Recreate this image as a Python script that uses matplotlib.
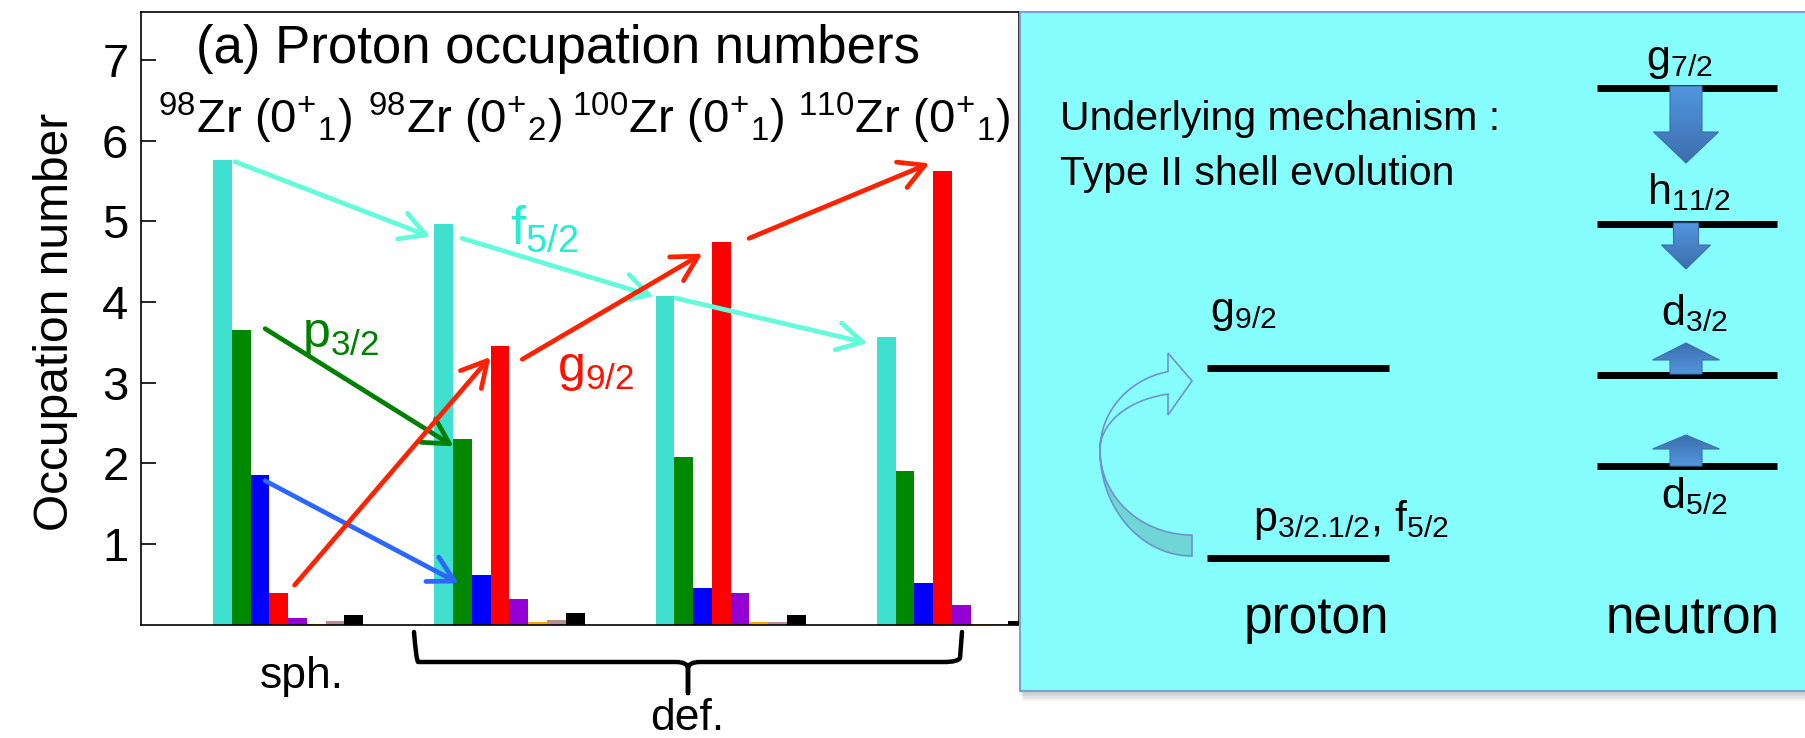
import numpy as np
import matplotlib
matplotlib.use('Agg')
import matplotlib.pyplot as plt
from matplotlib.patches import Rectangle, Polygon, PathPatch
from matplotlib.path import Path

plt.rcParams['font.family'] = ['Liberation Sans', 'DejaVu Sans']
plt.rcParams['mathtext.fontset'] = 'custom'
plt.rcParams['mathtext.rm'] = 'Liberation Sans'
plt.rcParams['mathtext.it'] = 'Liberation Sans:italic'
plt.rcParams['mathtext.bf'] = 'Liberation Sans:bold'

# proton orbitals (one bar per orbital in every state)
orbitals = ['f5/2', 'p3/2', 'p1/2', 'g9/2', 'd5/2', 's1/2', 'd3/2', 'g7/2']
bar_colors = ['#40E0D0', '#008800', '#0000FF', '#FF0000', '#9400D3',
              '#FFA500', '#BC8F8F', '#000000']

states = [r'$^{98}$Zr (0$^{+}$$_{1}$)', r'$^{98}$Zr (0$^{+}$$_{2}$)',
          r'$^{100}$Zr (0$^{+}$$_{1}$)', r'$^{110}$Zr (0$^{+}$$_{1}$)']
occ_98zr_0p1 = [5.76, 3.65, 1.86, 0.39, 0.08, 0.01, 0.05, 0.12]
occ_98zr_0p2 = [4.97, 2.30, 0.61, 3.45, 0.32, 0.03, 0.06, 0.14]
occ_100zr_0p1 = [4.07, 2.08, 0.46, 4.74, 0.39, 0.03, 0.03, 0.12]
occ_110zr_0p1 = [3.57, 1.90, 0.52, 5.62, 0.25, 0.01, 0.01, 0.05]
occ = np.array([occ_98zr_0p1, occ_98zr_0p2, occ_100zr_0p1, occ_110zr_0p1])

# schematic single-particle levels (y in pixels, top = 0)
proton_levels = {'p$_{3/2.1/2}$, f$_{5/2}$': 558, 'g$_{9/2}$': 368}
neutron_levels = {'g$_{7/2}$': 88, 'h$_{11/2}$': 224, 'd$_{3/2}$': 375, 'd$_{5/2}$': 466}

W, H = 1805, 738
fig = plt.figure(figsize=(W / 100, H / 100), dpi=100)

# ---- bar chart ----
y0_px, ytop_px = 624.7, 11.7
ax = fig.add_axes([141 / W, (H - y0_px) / H, (1019 - 141) / W, (y0_px - ytop_px) / H])
groups = np.arange(1, 5)
w = 0.0848
for k in range(len(orbitals)):
    ax.bar(groups - 0.34 + k * w, occ[:, k], width=w, align='edge',
           color=bar_colors[k], zorder=2)
ax.set_xlim(0.334, 4.302)
ax.set_ylim(0, 7.6)
ax.set_yticks(range(1, 8))
ax.set_xticks([])
ax.tick_params(axis='y', direction='in', length=11, width=1.2, labelsize=34, pad=9)
for s in ax.spines.values():
    s.set_linewidth(1.2)
ax.set_ylabel('Occupation number', fontsize=34.5)
ax.yaxis.set_label_coords(-0.072, 0.494)

arrows = [
    ((0.759, 5.74), (1.642, 4.81), '#64FADC'),
    ((1.785, 4.79), (2.651, 4.07), '#64FADC'),
    ((2.750, 4.05), (3.617, 3.49), '#64FADC'),
    ((0.895, 3.67), (1.747, 2.21), '#007F00'),
    ((0.895, 1.785), (1.770, 0.513), '#2A66FF'),
    ((1.028, 0.49), (1.913, 3.32), '#FF2200'),
    ((2.057, 3.29), (2.871, 4.60), '#FF2200'),
    ((3.082, 4.79), (3.897, 5.72), '#FF2200'),
]
for start, end, c in arrows:
    ax.annotate('', xy=end, xytext=start, zorder=4,
                arrowprops=dict(arrowstyle='->,head_length=0.6,head_width=0.33',
                                color=c, lw=3.4, mutation_scale=30,
                                shrinkA=0, shrinkB=0))

# ---- overlay in pixel coordinates ----
ov = fig.add_axes([0, 0, 1, 1], zorder=5)
ov.set_xlim(0, W)
ov.set_ylim(H, 0)
ov.axis('off')
ov.patch.set_alpha(0)

ov.text(196, 63, '(a) Proton occupation numbers', fontsize=38, va='baseline')
for x, lab in zip([158, 368, 572, 798], states):
    ov.text(x, 133, lab, fontsize=34, va='baseline')

ov.text(510, 244, 'f$_{5/2}$', fontsize=39, color='#22EED6', va='baseline')
ov.text(302, 347, 'p$_{3/2}$', fontsize=36, color='#008000', va='baseline')
ov.text(557, 381, 'g$_{9/2}$', fontsize=36, color='#FF1100', va='baseline')

ov.text(302, 688, 'sph.', fontsize=32, ha='center', va='baseline')
ov.text(687, 730, 'def.', fontsize=32, ha='center', va='baseline')

# curly brace under the deformed states
xl, xr, xm = 414, 962, 688
yt, yb, ytip = 632, 662, 693
verts = [(xl, yt), (xl + 2, yb - 4), (xl + 4, yb), (xl + 18, yb),
         (xm - 12, yb), (xm - 1, yb), (xm, yb + 6), (xm, ytip),
         (xm, yb + 6), (xm + 1, yb), (xm + 12, yb),
         (xr - 18, yb), (xr - 4, yb), (xr - 2, yb - 4), (xr, yt)]
codes = [Path.MOVETO, Path.CURVE3, Path.CURVE3, Path.LINETO,
         Path.LINETO, Path.CURVE3, Path.CURVE3, Path.LINETO,
         Path.LINETO, Path.CURVE3, Path.CURVE3,
         Path.LINETO, Path.CURVE3, Path.CURVE3, Path.LINETO]
ov.add_patch(PathPatch(Path(verts, codes), fill=False, lw=3.2, color='black',
                       capstyle='round', joinstyle='round'))

# ---- mechanism box ----
bx0, by0, bx1, by1 = 1020, 12, 1812, 691
for i in range(6):
    ov.add_patch(Rectangle((bx0 + 1 + i * 0.4, by0 + 2 + i * 1.6), bx1 - bx0, by1 - by0,
                           fc='#707070', ec='none', alpha=0.07))
ov.add_patch(Rectangle((bx0, by0), bx1 - bx0, by1 - by0, fc='#86FEFE',
                       ec='#7AA2DA', lw=1.5))

ov.text(1060, 130, 'Underlying mechanism :', fontsize=29.5, va='baseline')
ov.text(1060, 185, 'Type II shell evolution', fontsize=29.5, va='baseline')

for lab, y in proton_levels.items():
    ov.plot([1207, 1389], [y, y], color='black', lw=5, solid_capstyle='butt')
ov.text(1210, 322, 'g$_{9/2}$', fontsize=31, va='baseline')
ov.text(1253, 531, 'p$_{3/2.1/2}$, f$_{5/2}$', fontsize=31, va='baseline')
ov.text(1316, 633, 'proton', fontsize=37, ha='center', va='baseline')

for lab, y in neutron_levels.items():
    ov.plot([1597, 1777], [y, y], color='black', lw=5, solid_capstyle='butt')
ov.text(1646, 70, 'g$_{7/2}$', fontsize=31, va='baseline')
ov.text(1647, 204, 'h$_{11/2}$', fontsize=31, va='baseline')
ov.text(1661, 325, 'd$_{3/2}$', fontsize=31, va='baseline')
ov.text(1661, 508, 'd$_{5/2}$', fontsize=31, va='baseline')
ov.text(1693, 633, 'neutron', fontsize=37, ha='center', va='baseline')


def block_arrow(xc, y_from, y_to, shaft_w, head_w, head_len):
    d = 1 if y_to > y_from else -1
    yh = y_to - d * head_len
    pts = [(xc - shaft_w / 2, y_from), (xc + shaft_w / 2, y_from),
           (xc + shaft_w / 2, yh), (xc + head_w / 2, yh), (xc, y_to),
           (xc - head_w / 2, yh), (xc - shaft_w / 2, yh)]
    poly = Polygon(pts, closed=True, fc='none', ec='#3C6FAE', lw=0.8, zorder=3)
    ov.add_patch(poly)
    grad = np.linspace(0, 1, 64)[:, None]
    light = np.array([0.32, 0.59, 0.87])
    dark = np.array([0.24, 0.43, 0.68])
    if d < 0:
        grad = grad[::-1]
    img = light + (dark - light) * grad[..., None]
    im = ov.imshow(img, extent=(xc - head_w / 2, xc + head_w / 2,
                                max(y_from, y_to), min(y_from, y_to)),
                   origin='upper', aspect='auto', interpolation='bilinear', zorder=2.5)
    im.set_clip_path(poly)


block_arrow(1686, 86, 163, 32, 65, 31)
block_arrow(1686, 223, 269, 25, 49, 24)
block_arrow(1686, 374, 343, 32, 67, 17)
block_arrow(1686, 466, 435, 32, 67, 14)


# curved arrow from the pf shell up to g9/2
def arc(cx, cy, rx, ry, t0, t1, n=60):
    t = np.radians(np.linspace(t0, t1, n))
    return np.column_stack([cx + rx * np.cos(t), cy - ry * np.sin(t)])


lower = np.vstack([arc(1192, 450, 92, 106, 270, 180), arc(1192, 450, 92, 85, 180, 270)])
ov.add_patch(Polygon(lower, closed=True, fc='#6FD5D5', ec='#7090D0', lw=1.2, zorder=3))
head = np.array([(1168, 372), (1168, 353), (1192, 381), (1168, 415), (1168, 395)])
upper = np.vstack([arc(1185, 450, 85, 80, 180, 101.5), head,
                   arc(1185, 450, 85, 57, 101.5, 180)])
ov.add_patch(Polygon(upper, closed=True, fc='none', ec='#7090D0', lw=1.2, zorder=3))

ov.set_xlim(0, W)
ov.set_ylim(H, 0)

fig.savefig('out.png', dpi=100)
